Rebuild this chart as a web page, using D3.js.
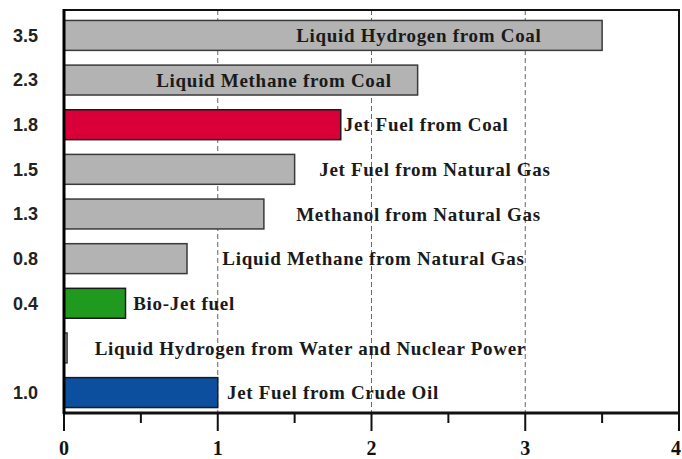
<!DOCTYPE html>
<html>
<head>
<meta charset="utf-8">
<script src="https://cdn.jsdelivr.net/npm/d3@7"></script>
<style>
  body { margin: 0; background: #fff; }
  svg { display: block; }
</style>
</head>
<body>
<div id="chart"></div>
<script>
// fuels, top to bottom
const fuels = [
    'Liquid Hydrogen from Coal',
    'Liquid Methane from Coal',
    'Jet Fuel from Coal',
    'Jet Fuel from Natural Gas',
    'Methanol from Natural Gas',
    'Liquid Methane from Natural Gas',
    'Bio-Jet fuel',
    'Liquid Hydrogen from Water and Nuclear Power',
    'Jet Fuel from Crude Oil'
];
// ratio values (bar lengths)
const ratios = [3.5, 2.3, 1.8, 1.5, 1.3, 0.8, 0.4, 0.02, 1.0];
// value labels on the left (hydrogen from water has none)
const valueLabels = ['3.5', '2.3', '1.8', '1.5', '1.3', '0.8', '0.4', '', '1.0'];
// where each name starts, in axis units
const nameAt = [1.51, 0.6, 1.82, 1.66, 1.51, 1.03, 0.45, 0.2, 1.06];
const barColors = ['#b3b3b3', '#b3b3b3', '#d9003a', '#b3b3b3', '#b3b3b3', '#b3b3b3', '#1f9a1f', '#b3b3b3', '#0c4f9e'];
const xTicks = [0, 1, 2, 3, 4];
const xMinorTicks = [0.5, 1.5, 2.5, 3.5];

const W = 682, H = 459;
const margin = { top: 10, right: 3, bottom: 46, left: 64 };

const svg = d3.select('#chart')
    .append('svg')
    .attr('width', W)
    .attr('height', H);

const x = d3.scaleLinear()
    .domain([0, 4])
    .range([margin.left, W - margin.right]);

const y = d3.scaleBand()
    .domain(fuels)
    .range([16, H - margin.bottom - 1])
    .paddingInner(0.33)
    .paddingOuter(0.1);

const plotBottom = H - margin.bottom;

// dashed grid lines
svg.append('g')
    .selectAll('line')
    .data([1, 2, 3])
    .enter().append('line')
    .attr('x1', d => x(d))
    .attr('x2', d => x(d))
    .attr('y1', margin.top)
    .attr('y2', plotBottom)
    .attr('stroke', '#666')
    .attr('stroke-width', 1)
    .attr('stroke-dasharray', '5,3');

// bars
svg.append('g')
    .selectAll('rect')
    .data(fuels)
    .enter().append('rect')
    .attr('x', x(0))
    .attr('y', d => y(d))
    .attr('width', (d, i) => x(ratios[i]) - x(0))
    .attr('height', y.bandwidth())
    .attr('fill', (d, i) => barColors[i])
    .attr('stroke', (d, i) => barColors[i] === '#b3b3b3' ? '#3a3a3a' : '#1a1a1a')
    .attr('stroke-width', 1.5);

// fuel names
svg.append('g')
    .selectAll('text')
    .data(fuels)
    .enter().append('text')
    .attr('x', (d, i) => x(nameAt[i]))
    .attr('y', d => y(d) + y.bandwidth() / 2)
    .attr('dy', '0.35em')
    .style('font-family', '"Liberation Serif", "Times New Roman", serif')
    .style('font-weight', 'bold')
    .style('font-size', '19px')
    .style('letter-spacing', '0.7px')
    .style('fill', '#1a1a1a')
    .text(d => d);

// value labels on the left
svg.append('g')
    .selectAll('text')
    .data(fuels)
    .enter().append('text')
    .attr('x', 38)
    .attr('y', d => y(d) + y.bandwidth() / 2)
    .attr('dy', '0.35em')
    .attr('text-anchor', 'end')
    .style('font-family', '"Liberation Sans", Arial, sans-serif')
    .style('font-weight', 'bold')
    .style('font-size', '18px')
    .style('fill', '#222')
    .text((d, i) => valueLabels[i]);

// frame
svg.append('rect')
    .attr('x', x(0))
    .attr('y', margin.top)
    .attr('width', x(4) - x(0))
    .attr('height', plotBottom - margin.top)
    .attr('fill', 'none')
    .attr('stroke', '#111')
    .attr('stroke-width', 2);

// bottom axis
const axis = svg.append('g')
    .attr('transform', `translate(0,${plotBottom})`);

axis.selectAll('.minor')
    .data(xMinorTicks)
    .enter().append('line')
    .attr('class', 'minor')
    .attr('x1', d => x(d))
    .attr('x2', d => x(d))
    .attr('y1', 0)
    .attr('y2', 10)
    .attr('stroke', '#111')
    .attr('stroke-width', 2);

axis.selectAll('.major')
    .data(xTicks)
    .enter().append('line')
    .attr('class', 'major')
    .attr('x1', d => x(d))
    .attr('x2', d => x(d))
    .attr('y1', 0)
    .attr('y2', 18)
    .attr('stroke', '#111')
    .attr('stroke-width', 2);

axis.append('line')
    .attr('x1', x(0) - 1)
    .attr('x2', x(4) + 1)
    .attr('y1', 0)
    .attr('y2', 0)
    .attr('stroke', '#111')
    .attr('stroke-width', 3);

// last label would run off the page, keep it inside
axis.selectAll('.tick-label')
    .data(xTicks)
    .enter().append('text')
    .attr('class', 'tick-label')
    .attr('x', d => Math.min(x(d), W - 6))
    .attr('y', 35)
    .attr('dy', '0.35em')
    .attr('text-anchor', 'middle')
    .style('font-family', '"Liberation Serif", "Times New Roman", serif')
    .style('font-weight', 'bold')
    .style('font-size', '20px')
    .style('fill', '#111')
    .text(d => d);

// left axis line, a bit heavier
svg.append('line')
    .attr('x1', x(0))
    .attr('x2', x(0))
    .attr('y1', margin.top - 1)
    .attr('y2', plotBottom + 1)
    .attr('stroke', '#000')
    .attr('stroke-width', 3);
</script>
</body>
</html>
